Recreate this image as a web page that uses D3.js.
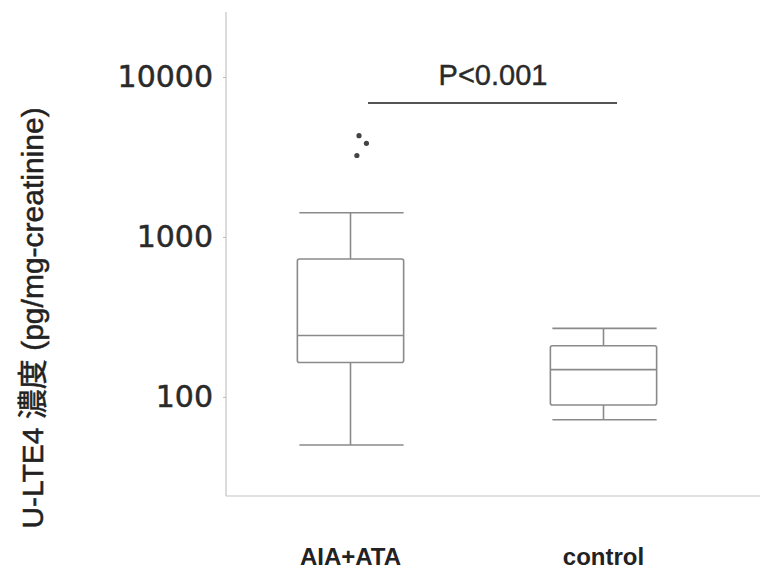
<!DOCTYPE html>
<html>
<head>
<meta charset="utf-8">
<script src="https://cdn.jsdelivr.net/npm/d3@7"></script>
<style>
  body { margin: 0; background: #fff; }
  svg { display: block; }
</style>
</head>
<body>
<div id="chart"></div>
<script>
// box plot summaries (pg/mg-creatinine)
const categories = ['AIA+ATA', 'control'];
const whiskerLow = [50, 72];
const q1 = [164, 89];
const medians = [242, 148];
const q3 = [728, 209];
const whiskerHigh = [1416, 268];
// outliers: group, value, small horizontal offset (fraction of box width)
const outlierGroup = ['AIA+ATA', 'AIA+ATA', 'AIA+ATA'];
const outlierValue = [4300, 3850, 3230];
const outlierJitter = [0.08, 0.15, 0.06];
const yTicks = [100, 1000, 10000];
const pText = 'P<0.001';
const yLabel = 'U-LTE4 濃度 (pg/mg-creatinine)';

const width = 760, height = 569;
const plot = { left: 226, right: 760, top: 12, bottom: 496 };

const svg = d3.select('#chart').append('svg')
    .attr('width', width).attr('height', height);

const x = d3.scaleBand().domain(categories).range([224, 730])
    .paddingInner(0.58).paddingOuter(0.29);
const y = d3.scaleLog().domain([24, 25500]).range([plot.bottom, plot.top]);

// axes frame (light dotted look)
svg.append('line')
    .attr('x1', plot.left).attr('x2', plot.left)
    .attr('y1', plot.top).attr('y2', plot.bottom)
    .attr('stroke', '#c4c4c4').attr('stroke-width', 1.2);
svg.append('line')
    .attr('x1', plot.left).attr('x2', plot.right)
    .attr('y1', plot.bottom).attr('y2', plot.bottom)
    .attr('stroke', '#c4c4c4').attr('stroke-width', 1.2);

const yAxis = svg.append('g')
    .attr('transform', `translate(${plot.left},0)`)
    .call(d3.axisLeft(y).tickValues(yTicks).tickFormat(d3.format('d')).tickSize(3).tickPadding(10));
yAxis.select('.domain').remove();
yAxis.selectAll('.tick line').attr('stroke', '#bbb');
yAxis.selectAll('.tick text')
    .attr('fill', '#2a2a2a')
    .attr('stroke', '#2a2a2a').attr('stroke-width', 0.5)
    .style('font-family', '"DejaVu Sans", Verdana, sans-serif')
    .style('font-size', '30px');

// x category labels
svg.selectAll('.xlab').data(categories).enter().append('text')
    .attr('x', d => x(d) + x.bandwidth() / 2)
    .attr('y', 565)
    .attr('text-anchor', 'middle')
    .attr('fill', '#222')
    .style('font-family', '"Liberation Sans", Arial, sans-serif')
    .style('font-weight', 'bold')
    .style('font-size', '24px')
    .text(d => d);

// y title
svg.append('text')
    .attr('transform', 'translate(43,318) rotate(-90)')
    .attr('text-anchor', 'middle')
    .attr('fill', '#222')
    .attr('stroke', '#222').attr('stroke-width', 0.5)
    .style('font-family', '"Liberation Sans", "Noto Sans CJK JP", Arial, sans-serif')
    .style('font-size', '30px')
    .text(yLabel);

// boxes
const stroke = '#8a8a8a';
const boxes = svg.selectAll('.box').data(categories).enter().append('g');
boxes.each(function(d, i) {
    const g = d3.select(this);
    const x0 = x(d), bw = x.bandwidth(), cx = x0 + bw / 2;
    const line = (x1, y1, x2, y2) => g.append('line')
        .attr('x1', x1).attr('y1', y1).attr('x2', x2).attr('y2', y2)
        .attr('stroke', stroke).attr('stroke-width', 1.6);
    line(cx, y(whiskerHigh[i]), cx, y(q3[i]));
    line(cx, y(q1[i]), cx, y(whiskerLow[i]));
    line(x0 + 2, y(whiskerHigh[i]), x0 + bw, y(whiskerHigh[i]));
    line(x0 + 2, y(whiskerLow[i]), x0 + bw, y(whiskerLow[i]));
    g.append('rect')
        .attr('x', x0).attr('y', y(q3[i]))
        .attr('width', bw).attr('height', y(q1[i]) - y(q3[i]))
        .attr('rx', 2)
        .attr('fill', 'none').attr('stroke', stroke).attr('stroke-width', 1.6);
    line(x0, y(medians[i]), x0 + bw, y(medians[i]));
});

// outliers
svg.selectAll('.out').data(outlierValue).enter().append('circle')
    .attr('cx', (d, i) => x(outlierGroup[i]) + x.bandwidth() * (0.5 + outlierJitter[i]))
    .attr('cy', d => y(d))
    .attr('r', 2.6)
    .attr('fill', '#444');

// significance bar
const barY = y(6880);
svg.append('line')
    .attr('x1', 368).attr('x2', 617)
    .attr('y1', barY).attr('y2', barY)
    .attr('stroke', '#555').attr('stroke-width', 1.8);
svg.append('text')
    .attr('x', 493).attr('y', 85)
    .attr('text-anchor', 'middle')
    .attr('fill', '#2a2a2a')
    .attr('stroke', '#2a2a2a').attr('stroke-width', 0.4)
    .style('font-family', '"Liberation Sans", Arial, sans-serif')
    .style('font-size', '29px')
    .text(pText);
</script>
</body>
</html>
